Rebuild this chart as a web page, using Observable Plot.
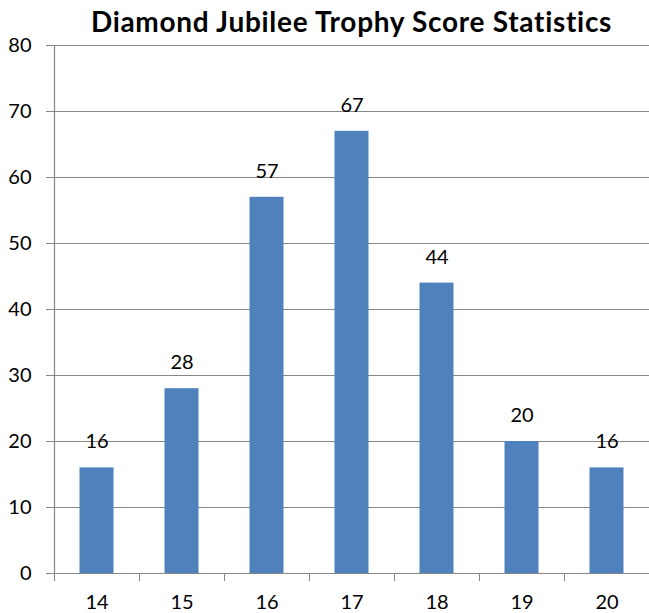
<!DOCTYPE html>
<html>
<head>
<meta charset="utf-8">
<script src="https://cdn.jsdelivr.net/npm/d3@7"></script>
<script src="https://cdn.jsdelivr.net/npm/@observablehq/plot@0.6"></script>
<style>
  html, body { margin: 0; padding: 0; background: #fff; overflow: hidden; }
  #wrap { position: relative; width: 649px; height: 613px; }
  #title { position: absolute; left: 0; top: 4px; width: 703px; text-align: center; white-space: nowrap;
           font-family: Lato, "Open Sans", sans-serif; font-weight: bold; font-size: 28px; letter-spacing: 0.7px;
           line-height: 34px; color: #000; }
  #chart { position: absolute; left: 0; top: 0; }
</style>
</head>
<body>
<div id="wrap">
  <div id="chart"></div>
  <div id="title">Diamond Jubilee Trophy Score Statistics</div>
</div>
<script>
const title = "Diamond Jubilee Trophy Score Statistics";
const scores = [14, 15, 16, 17, 18, 19, 20];
const counts = [16, 28, 57, 67, 44, 20, 16];
const yTicks = [0, 10, 20, 30, 40, 50, 60, 70, 80];

const data = scores.map((s, i) => ({score: s, count: counts[i]}));
const boundaries = scores.map(s => s - 0.5).concat([scores[scores.length - 1] + 0.5]);
const font = "Lato, 'Open Sans', sans-serif";
document.getElementById("title").textContent = title;

const chart = Plot.plot({
  width: 649,
  height: 613,
  marginLeft: 54,
  marginRight: 0,
  marginTop: 45,
  marginBottom: 40,
  style: {fontFamily: font, fontSize: "20px", color: "#000", background: "#fff"},
  x: {type: "linear", domain: [boundaries[0], boundaries[boundaries.length - 1]]},
  y: {domain: [0, 80]},
  marks: [
    Plot.gridY(yTicks, {stroke: "#878787", strokeOpacity: 1, strokeWidth: 1.2}),
    Plot.axisY(yTicks, {tickSize: 8, tickPadding: 15, stroke: "#878787", label: null, fontSize: 20, fill: "#000"}),
    Plot.rectY(data, {x1: d => d.score - 0.2, x2: d => d.score + 0.2, y: "count", fill: "#4F81BD"}),
    Plot.ruleX([boundaries[0]], {stroke: "#878787", strokeWidth: 1.2}),
    Plot.ruleY([0], {stroke: "#878787", strokeWidth: 1.2}),
    Plot.axisX(boundaries, {tickSize: 8, tickFormat: () => "", stroke: "#878787", label: null}),
    Plot.axisX(scores, {tickSize: 0, tickPadding: 21, tickFormat: d => String(d), label: null, fontSize: 20, fill: "#000"}),
    Plot.text(data, {x: "score", y: "count", text: d => String(d.count), dy: -26, fontSize: 20, fill: "#000"})
  ]
});
document.getElementById("chart").appendChild(chart);
</script>
</body>
</html>
